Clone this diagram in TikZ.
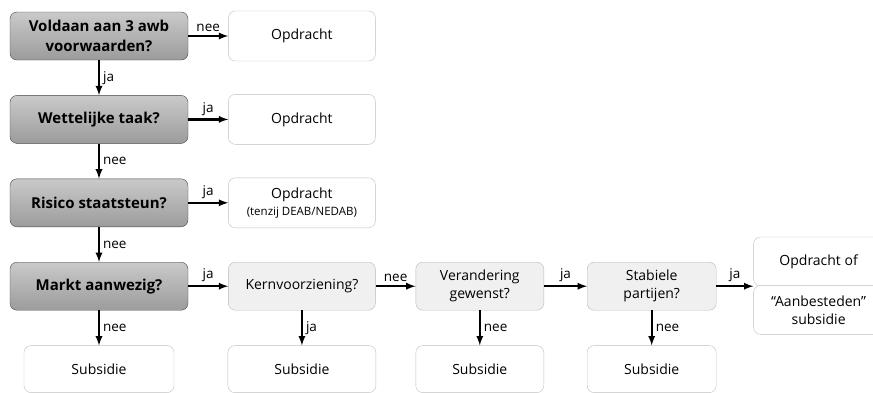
\documentclass[tikz,border=0pt]{standalone}
\usepackage{fontspec}
\setmainfont{Open Sans}
\usepackage{tikz}
\usetikzlibrary{arrows,shapes,positioning}
\tikzset{
  basic/.style    = {draw, rectangle, rounded corners=7pt, align=center, inner sep=2pt, font=\fontsize{14}{18}\selectfont},
  vraag/.style    = {basic, draw=gray!55!black, top color=gray!42, bottom color=gray!78, font=\bfseries\fontsize{15}{20}\selectfont, minimum width=178pt, minimum height=48pt},
  keuze/.style    = {basic, draw=gray!55, fill=gray!12, minimum height=48pt},
  uitkomst/.style = {basic, draw=gray!50, fill=white, minimum height=47pt},
  tak/.style      = {font=\fontsize{13.5}{15}\selectfont, inner sep=3pt},
  pijl/.style     = {->, draw, line width=2.2pt}
}

\begin{document}
\begin{tikzpicture}[x=1pt,y=-1pt,>=latex,node distance=35pt and 40pt]
  \useasboundingbox (0,0) rectangle (873,392);
  \clip (0,0) rectangle (873,392);
  % linker kolom
  \node[vraag] (voldaan) at (99,36) {Voldaan aan 3 awb\\voorwaarden?};
  \node[vraag, below=of voldaan] (taak) {Wettelijke taak?};
  \node[vraag, below=of taak] (risico) {Risico staatsteun?};
  \node[vraag, below=of risico] (markt) {Markt aanwezig?};
  \node[uitkomst, right=of voldaan, minimum width=147pt, minimum height=50pt] (opdracht1) {Opdracht};
  \node[uitkomst, right=of taak, minimum width=147pt, minimum height=50pt] (opdracht2) {Opdracht};
  \node[uitkomst, right=of risico, minimum width=147pt, minimum height=50pt] (opdracht3) {Opdracht\\[-1pt]{\fontsize{11.5}{13}\selectfont(tenzij DEAB/NEDAB)}};
  % onderste rij
  \node[keuze, right=of markt, minimum width=147pt] (kern) {Kernvoorziening?};
  \node[keuze, right=of kern, minimum width=128pt] (verandering) {Verandering\\gewenst?};
  \node[keuze, right=43pt of verandering, minimum width=129pt] (stabiel) {Stabiele\\partijen?};
  \node[uitkomst, above right=0pt and 37pt of stabiel.east, minimum width=130pt, minimum height=49pt] (opdracht4) {Opdracht of};
  \node[uitkomst, below=-1pt of opdracht4, minimum width=130pt, minimum height=49pt] (aanbesteed) {“Aanbesteden”\\subsidie};
  \node[uitkomst, below=of markt, minimum width=150pt] (subsidie1) {Subsidie};
  \node[uitkomst, below=of kern, minimum width=148pt] (subsidie2) {Subsidie};
  \node[uitkomst, below=of verandering, minimum width=128pt] (subsidie3) {Subsidie};
  \node[uitkomst, below=of stabiel, minimum width=129pt] (subsidie4) {Subsidie};
  % pijlen
  \draw[pijl] (voldaan) -- node[tak, above] {nee} (opdracht1);
  \draw[pijl] (taak) -- node[tak, above] {ja} (opdracht2);
  \draw[pijl] (risico) -- node[tak, above] {ja} (opdracht3);
  \draw[pijl] (markt) -- node[tak, above] {ja} (kern);
  \draw[pijl] (kern) -- node[tak, above] {nee} (verandering);
  \draw[pijl] (verandering) -- node[tak, above] {ja} (stabiel);
  \draw[pijl] (stabiel) -- node[tak, above] {ja} (opdracht4.south west);
  \draw[pijl] (voldaan) -- node[tak, right] {ja} (taak);
  \draw[pijl] (taak) -- node[tak, right] {nee} (risico);
  \draw[pijl] (risico) -- node[tak, right] {nee} (markt);
  \draw[pijl] (markt) -- node[tak, right] {nee} (subsidie1);
  \draw[pijl] (kern) -- node[tak, right] {ja} (subsidie2);
  \draw[pijl] (verandering) -- node[tak, right] {nee} (subsidie3);
  \draw[pijl] (stabiel) -- node[tak, right] {nee} (subsidie4);
\end{tikzpicture}
\end{document}
